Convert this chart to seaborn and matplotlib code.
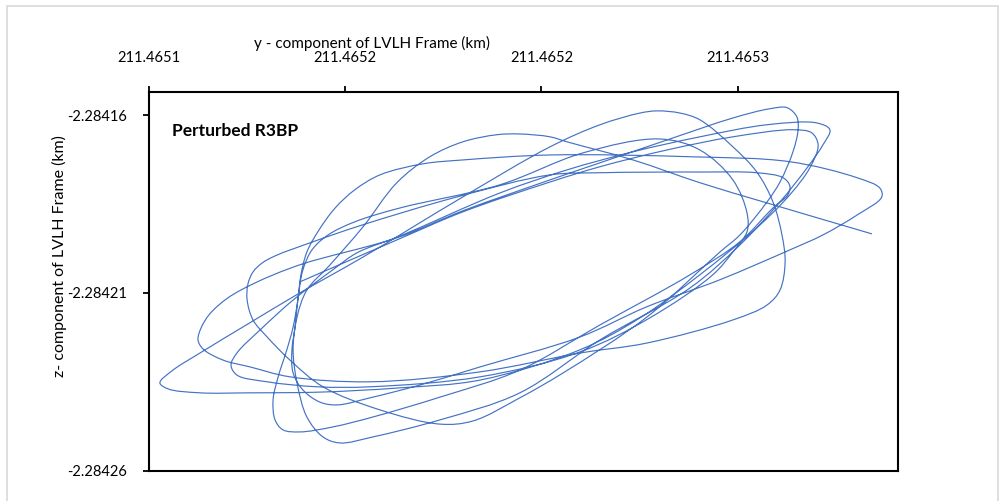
import numpy as np
import matplotlib
matplotlib.use("Agg")
import matplotlib.pyplot as plt
from matplotlib.path import Path
from matplotlib.patches import PathPatch, Rectangle
import seaborn as sns

# Reference corner of the plot (km); samples are offsets from it in millimetres
Y_REF_KM = 211.4651
Z_REF_KM = -2.28426

y_offset_mm = [
    38.5, 63.2, 80.0, 102.2, 114.9, 131.9, 148.7, 164.0, 168.8, 170.4,
    168.3, 163.2, 154.8, 140.3, 125.1, 109.8, 84.4, 64.0, 43.6, 25.8,
    13.1, 5.0, 2.9, 6.0, 13.1, 25.8, 38.5, 54.6, 80.0, 102.2,
    114.9, 125.1, 129.4, 135.2, 140.3, 148.7, 154.8, 158.9, 161.2, 162.0,
    160.7, 157.4, 148.7, 126.8, 109.8, 84.4, 56.4, 36.0, 25.8, 19.0,
    13.9, 12.6, 13.4, 15.6, 20.2, 27.1, 38.5, 63.2, 80.0, 102.2,
    114.9, 131.9, 148.7, 158.1, 162.5, 165.0, 165.3, 164.0, 160.7, 157.4,
    150.5, 145.4, 126.8, 105.5, 94.5, 82.6, 74.2, 58.9, 44.4, 36.0,
    30.2, 26.6, 25.1, 25.3, 26.6, 28.9, 32.2, 41.9, 53.8, 78.5,
    102.2, 114.9, 140.3, 154.8, 161.5, 163.2, 162.7, 158.9, 150.5, 137.8,
    114.9, 94.5, 74.2, 57.1, 46.9, 38.5, 34.2, 32.2, 31.7, 33.0,
    35.2, 36.8, 38.0, 38.8, 40.3, 43.1, 47.5, 52.5, 58.9, 69.8,
    80.0, 102.2, 137.8, 163.2, 180.3, 186.1, 186.6, 180.3, 171.6, 163.2,
    145.4, 126.8, 109.8, 84.4, 69.1, 56.4, 48.0, 43.6, 39.3, 36.8,
    36.5, 37.3, 38.0, 39.3, 41.6, 45.7, 52.5, 64.0, 89.4, 110.6,
    130.1, 140.3, 148.7, 152.3, 152.3, 148.7, 143.6, 127.6, 109.8, 84.4,
    56.4, 42.9, 30.2, 22.5, 21.0, 22.5, 28.4, 36.8, 46.9, 53.1,
    64.0, 89.4, 106.5, 123.3, 140.3, 157.4, 170.1, 173.4, 171.6, 167.6,
    160.7, 150.5, 137.8, 114.9, 94.5, 74.2, 57.1, 48.7, 44.4, 40.3,
    37.8, 36.8, 37.8, 40.3, 46.2, 54.6, 63.2, 71.6, 80.0, 88.7,
    94.5, 102.2, 106.5, 123.3, 140.3, 157.4, 184.1,
]
z_offset_mm = [
    53.1, 64.9, 72.8, 81.2, 85.5, 90.2, 93.9, 95.9, 95.0, 91.6,
    85.2, 77.6, 68.3, 55.1, 43.0, 34.0, 25.5, 23.3, 22.1, 21.9,
    21.9, 23.0, 24.7, 28.1, 33.1, 41.6, 50.0, 60.1, 77.0, 91.1,
    97.3, 100.6, 101.2, 100.6, 98.7, 91.1, 84.0, 75.6, 66.3, 58.7,
    50.8, 46.6, 42.4, 35.9, 33.1, 27.8, 25.0, 26.4, 29.2, 31.1,
    34.2, 36.8, 40.2, 44.1, 48.6, 52.8, 57.9, 65.5, 73.1, 81.8,
    86.6, 93.0, 99.2, 101.8, 102.1, 99.5, 95.9, 89.7, 81.2, 75.6,
    66.3, 61.5, 43.2, 27.5, 20.5, 14.0, 13.1, 17.1, 23.6, 31.1,
    37.6, 42.4, 48.0, 52.5, 55.9, 58.4, 60.4, 64.4, 68.9, 77.0,
    83.2, 83.8, 84.0, 83.8, 82.4, 80.1, 77.6, 73.9, 64.4, 55.1,
    41.0, 28.3, 20.7, 15.1, 12.3, 10.9, 11.5, 14.3, 19.9, 26.4,
    34.0, 40.4, 48.0, 55.1, 61.5, 67.2, 73.9, 79.0, 83.2, 86.3,
    87.4, 88.8, 88.3, 86.9, 82.4, 79.5, 77.0, 71.9, 66.3, 62.1,
    53.7, 46.1, 37.6, 29.2, 24.1, 20.5, 18.5, 19.3, 22.7, 27.5,
    34.0, 40.4, 48.0, 56.5, 62.1, 66.3, 70.0, 73.9, 80.4, 89.4,
    93.3, 90.2, 81.8, 72.5, 67.2, 61.5, 55.1, 43.0, 33.4, 26.4,
    23.6, 23.6, 25.0, 26.9, 29.7, 33.1, 39.6, 48.0, 56.5, 61.3,
    66.0, 78.1, 84.6, 89.7, 93.9, 97.3, 97.8, 95.9, 91.6, 85.2,
    75.6, 63.5, 51.4, 36.8, 21.9, 14.3, 9.5, 7.8, 9.5, 15.1,
    24.7, 34.0, 43.2, 50.8, 57.9, 68.6, 81.0, 88.3, 92.5, 94.5,
    94.7, 93.9, 92.5, 87.4, 81.0, 75.3, 66.6,
]

x_ticks = [211.46510, 211.46515, 211.46520, 211.46525]
x_tick_labels = ["211.4651", "211.4652", "211.4652", "211.4653"]
y_ticks = [-2.28416, -2.28421, -2.28426]
y_tick_labels = ["-2.28416", "-2.28421", "-2.28426"]

y_km = Y_REF_KM + np.asarray(y_offset_mm) * 1e-6
z_km = Z_REF_KM + np.asarray(z_offset_mm) * 1e-6

sns.set_theme(style="white")
plt.rcParams["font.family"] = ["Lato", "DejaVu Sans"]

fig = plt.figure(figsize=(10.0, 5.01), dpi=100)
ax = fig.add_axes([0.1485, 0.0605, 0.749, 0.7565])

ax.set_xlim(211.46510, 211.4652906)
ax.set_ylim(-2.28426, -2.2841534)


def smooth_path(xs, ys, axes, alpha=0.5):
    """Smoothed line through the samples: centripetal Catmull-Rom drawn as
    cubic Bezier segments, knots measured in screen space."""
    p = np.column_stack([xs, ys])
    q = axes.transData.transform(p)
    n = len(p)
    d = np.linalg.norm(np.diff(q, axis=0), axis=1)
    d = np.maximum(d, 1e-9) ** alpha
    t = np.concatenate([[0.0], np.cumsum(d)])
    verts = [p[0]]
    codes = [Path.MOVETO]
    for i in range(n - 1):
        i0, i3 = max(i - 1, 0), min(i + 2, n - 1)
        p0, p1, p2, p3 = p[i0], p[i], p[i + 1], p[i3]
        t0, t1, t2, t3 = t[i0], t[i], t[i + 1], t[i3]
        dt = t2 - t1
        if i0 == i:
            m1 = p2 - p1
        else:
            m1 = dt * ((p1 - p0) / (t1 - t0) - (p2 - p0) / (t2 - t0) + (p2 - p1) / dt)
        if i3 == i + 1:
            m2 = p2 - p1
        else:
            m2 = dt * ((p2 - p1) / dt - (p3 - p1) / (t3 - t1) + (p3 - p2) / (t3 - t2))
        verts += [p1 + m1 / 3.0, p2 - m2 / 3.0, p2]
        codes += [Path.CURVE4] * 3
    return Path(np.array(verts), codes)


ax.add_patch(PathPatch(smooth_path(y_km, z_km, ax), facecolor="none",
                       edgecolor="#4472C4", linewidth=0.85))

ax.xaxis.tick_top()
ax.set_xticks(x_ticks)
ax.set_xticklabels(x_tick_labels)
ax.set_yticks(y_ticks)
ax.set_yticklabels(y_tick_labels)
ax.tick_params(axis="x", which="major", direction="out", length=4.5, width=1.3,
               pad=15, labelsize=10.5, colors="black", top=True, bottom=False)
ax.tick_params(axis="y", which="major", direction="out", length=4.5, width=1.3,
               pad=11, labelsize=10.5, colors="black", left=True)

for side in ["top", "bottom", "left", "right"]:
    ax.spines[side].set_visible(True)
    ax.spines[side].set_color("black")
    ax.spines[side].set_linewidth(1.5)

ax.set_xlabel("y - component of LVLH Frame (km)", fontsize=11, color="black")
ax.xaxis.set_label_position("top")
ax.xaxis.set_label_coords(0.2984, 1.1262)
ax.xaxis.label.set_va("center")
ax.set_ylabel("z- component of LVLH Frame (km)", fontsize=11.5, color="black")
ax.yaxis.set_label_coords(-0.1182, 0.5652)
ax.yaxis.label.set_va("center")

ax.text(0.0314, 0.8963, "Perturbed R3BP", transform=ax.transAxes,
        fontsize=12.5, fontweight="bold", ha="left", va="center", color="black")

ax.grid(False)
fig.patch.set_facecolor("white")
fig.add_artist(Rectangle((0.007, -0.02), 0.9905, 1.008, transform=fig.transFigure,
                         fill=False, edgecolor="#d9d9d9", linewidth=1.2))

fig.savefig("out.png", dpi=100)
